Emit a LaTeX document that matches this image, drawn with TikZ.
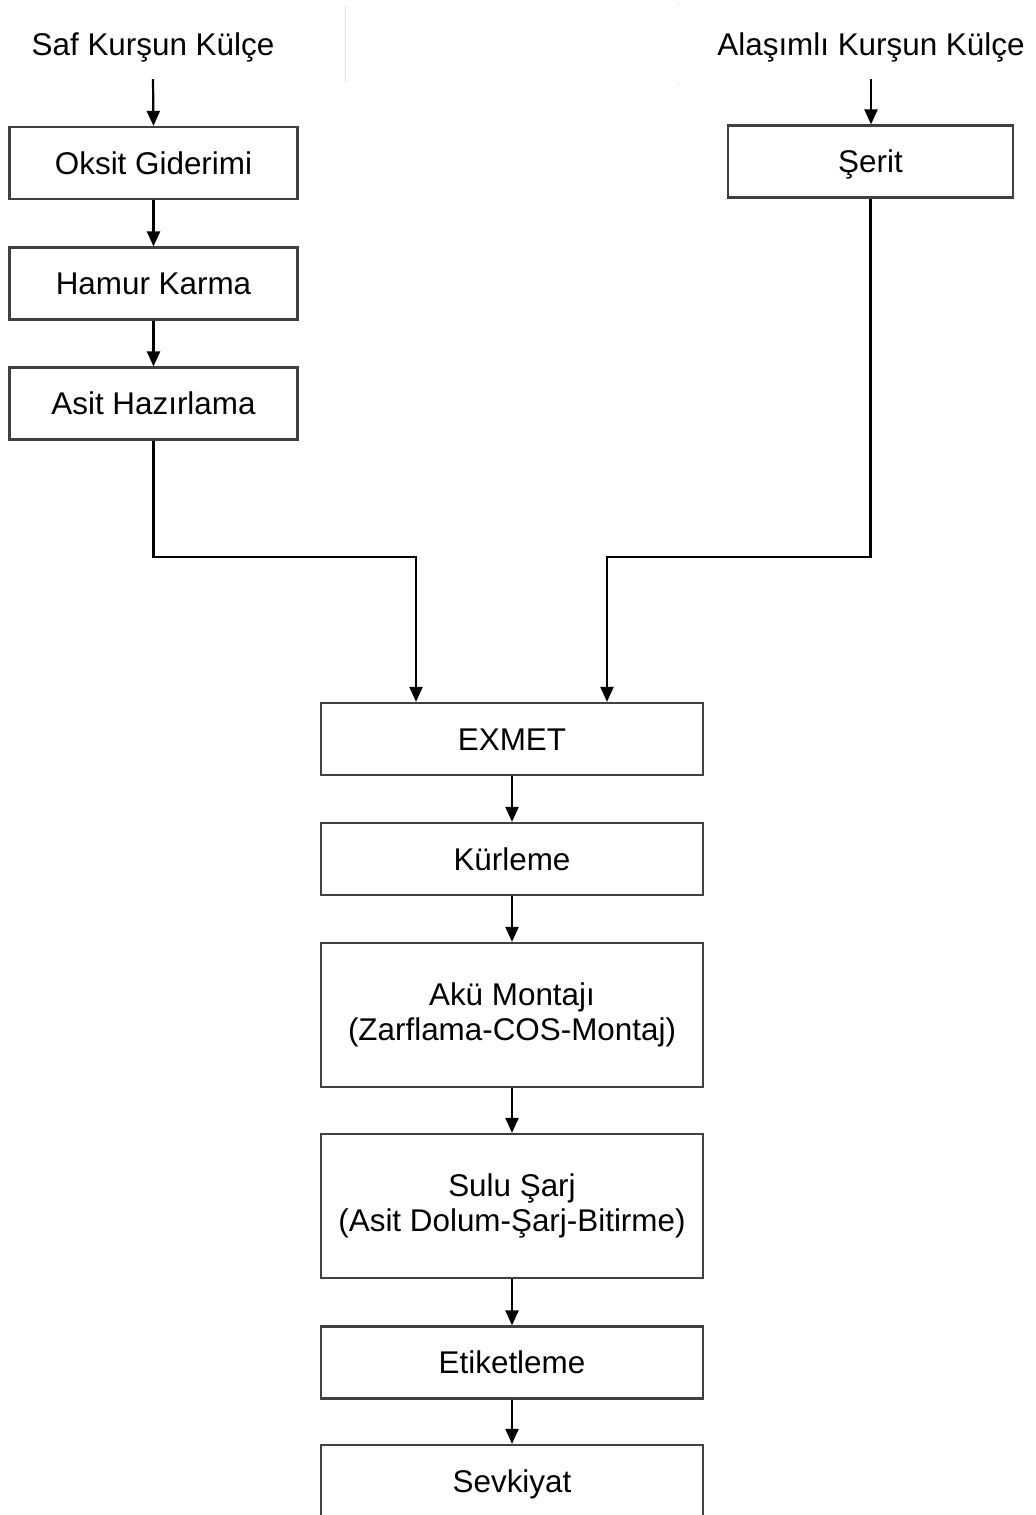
\documentclass[tikz,border=0pt]{standalone}
\usepackage{fontspec}
\setmainfont{Liberation Sans}
\usetikzlibrary{arrows.meta}
\begin{document}
\begin{tikzpicture}[x=0.5pt,y=-0.5pt,
  box/.style={draw=black!75, line width=1.1pt, minimum width=144pt, minimum height=36pt,
    inner sep=0pt, align=center, font=\fontsize{15.7pt}{17.5pt}\selectfont},
  one/.style={text height=11.3pt, text depth=0pt},
  wide/.style={box, minimum width=191pt},
  tall/.style={wide, minimum height=72pt},
  title/.style={inner sep=0pt, anchor=base, font=\fontsize{15.7pt}{17.5pt}\selectfont},
  arr/.style={line width=1.1pt, -{Triangle[length=7.5pt,width=6.5pt]}}]
\useasboundingbox (0,0) rectangle (1035,1515);
% faint artefact lines at top
\draw[black!10, line width=0.5pt] (345,5) -- (345,83);
\fill[black!10] (678,5) circle (0.5pt) (678,83) circle (0.5pt);
% titles
\node[title] (t1) at (153,55) {Saf Kurşun Külçe};
\node[title] (t2) at (871,55) {Alaşımlı Kurşun Külçe};
% left column
\node[box, one] (ox) at (153.5,163) {Oksit Giderimi};
\node[box, one] (hk) at (153.5,283.5) {Hamur Karma};
\node[box, one] (ah) at (153.5,403.5) {Asit Hazırlama};
% right column
\node[box, one, minimum width=142.5pt] (sr) at (870.5,161.5) {Şerit};
% center column
\node[wide, one] (ex) at (512,739) {EXMET};
\node[wide, one] (ku) at (512,859) {Kürleme};
\node[tall] (am) at (512,1015) {Akü Montajı\\(Zarflama-COS-Montaj)};
\node[tall] (ss) at (512,1206) {Sulu Şarj\\(Asit Dolum-Şarj-Bitirme)};
\node[wide, one] (et) at (512,1362.5) {Etiketleme};
\node[wide, one] (sv) at (512,1481) {Sevkiyat};
% merge points
\coordinate (m1) at (416,557);
\coordinate (m2) at (607,557);
% connectors
\draw[arr] ([yshift=-12pt]t1.base) -- (ox.north);
\draw[arr] ([yshift=-12pt]t2.base) -- (t2.base |- sr.north);
\draw[arr] (ox.south) -- (hk.north);
\draw[arr] (hk.south) -- (ah.north);
\draw[arr] (ah.south) |- (m1) -- (m1 |- ex.north);
\draw[arr] (sr.south) |- (m2) -- (m2 |- ex.north);
\draw[arr] (ex.south) -- (ku.north);
\draw[arr] (ku.south) -- (am.north);
\draw[arr] (am.south) -- (ss.north);
\draw[arr] (ss.south) -- (et.north);
\draw[arr] (et.south) -- (sv.north);
\end{tikzpicture}
\end{document}
